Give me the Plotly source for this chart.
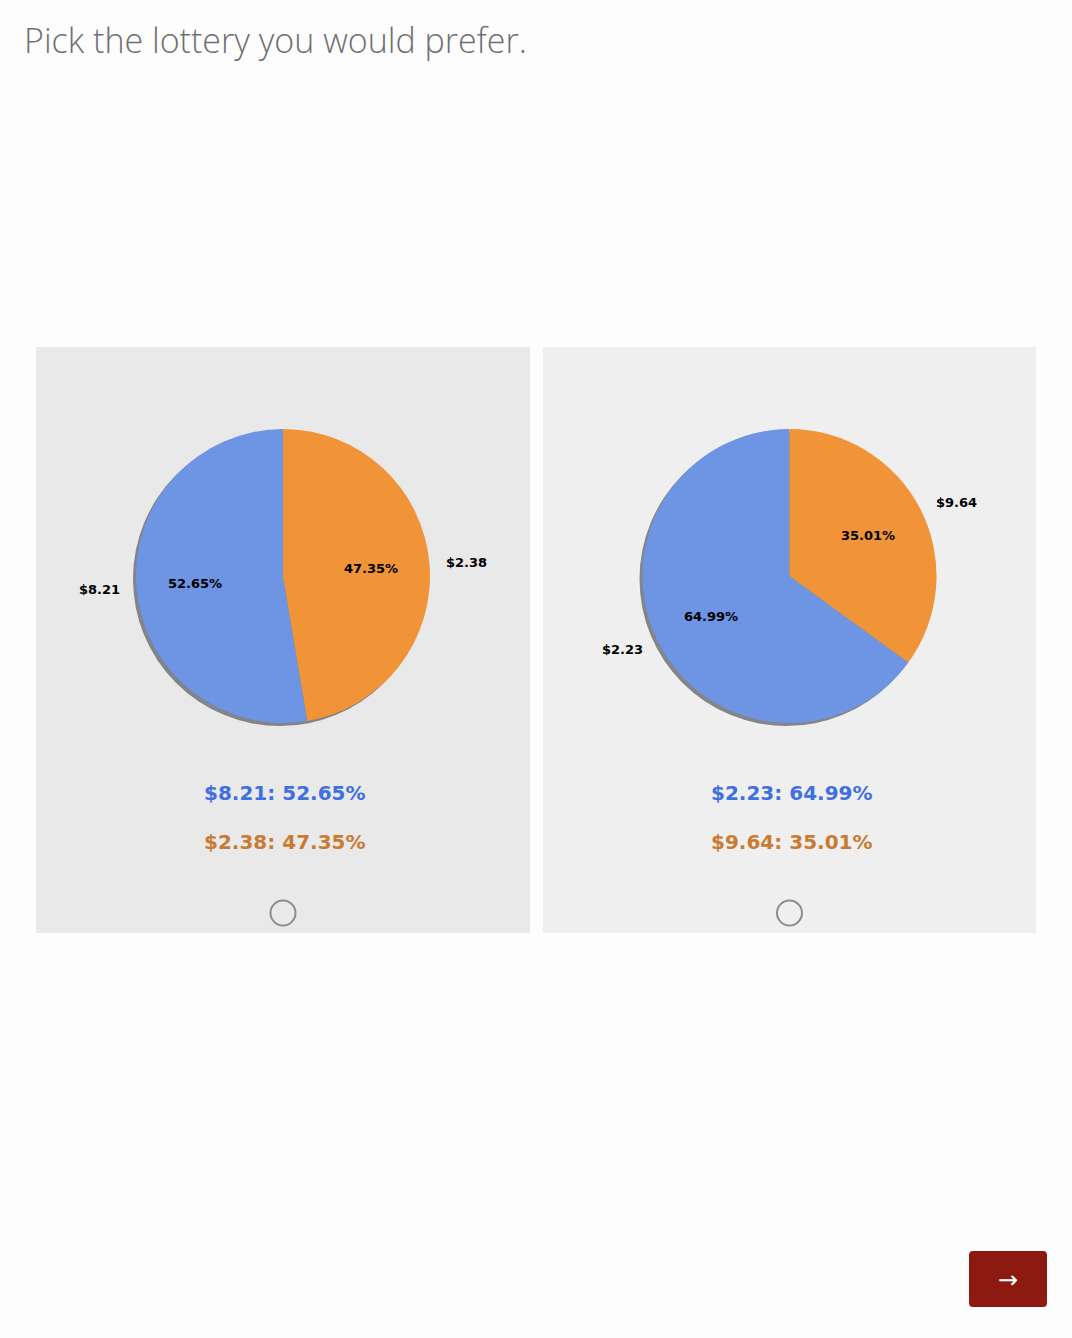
import math
import plotly.graph_objects as go

# lottery data
prizes_a = ["$8.21", "$2.38"]
probs_a = [52.65, 47.35]
prizes_b = ["$2.23", "$9.64"]
probs_b = [64.99, 35.01]

title = "Pick the lottery you would prefer."
slice_colors = ["#6e94e4", "#f19337"]
text_colors = ["#3f6fe0", "#c97b32"]

W, H = 1072, 1338


def px(x):
    return x / W


def py(y):
    return 1 - y / H


fig = go.Figure()
shapes = []
annotations = []

panels = [
    dict(x0=36, x1=530, color="#e9e9e9", prizes=prizes_a, probs=probs_a),
    dict(x0=543, x1=1036, color="#efefef", prizes=prizes_b, probs=probs_b),
]
top, bottom = 347, 933
cy, r = 576, 147

for p in panels:
    cx = (p["x0"] + p["x1"]) / 2
    total = sum(p["probs"])
    shapes.append(dict(type="rect", xref="paper", yref="paper", layer="below",
                       x0=px(p["x0"]), x1=px(p["x1"]), y0=py(bottom), y1=py(top),
                       fillcolor=p["color"], line=dict(width=0)))
    # shadow
    shapes.append(dict(type="circle", xref="paper", yref="paper", layer="below",
                       x0=px(cx - r - 3), x1=px(cx + r - 3), y0=py(cy + r + 3), y1=py(cy - r + 3),
                       fillcolor="rgba(95,97,105,0.75)", line=dict(width=0)))
    # first slice runs counterclockwise from 12 o'clock (like matplotlib startangle=90)
    fig.add_trace(go.Pie(
        labels=p["prizes"], values=p["probs"], sort=False, direction="clockwise",
        rotation=-360 * p["probs"][0] / total,
        marker=dict(colors=slice_colors, line=dict(width=0)),
        textinfo="none", hoverinfo="label+percent", showlegend=False,
        domain=dict(x=[px(cx - r), px(cx + r)], y=[py(cy + r), py(cy - r)]),
    ))
    start = 90.0
    for lab, v in zip(p["prizes"], p["probs"]):
        span = 360 * v / total
        mid = math.radians(start + span / 2)
        start += span
        c, s = math.cos(mid), math.sin(mid)
        annotations.append(dict(x=px(cx + 1.1 * r * c), y=py(cy - 1.1 * r * s),
                                text=lab, showarrow=False,
                                xanchor="left" if c > 0 else "right", yanchor="middle",
                                font=dict(family="DejaVu Sans", size=13, color="black", weight="bold")))
        annotations.append(dict(x=px(cx + 0.6 * r * c), y=py(cy - 0.6 * r * s),
                                text=f"{v:.2f}%", showarrow=False,
                                xanchor="center", yanchor="middle",
                                font=dict(family="DejaVu Sans", size=13, color="black", weight="bold")))
    for i, (lab, v) in enumerate(zip(p["prizes"], p["probs"])):
        annotations.append(dict(x=px(cx + 2), y=py(793 + 49 * i), text=f"{lab}: {v:.2f}%",
                                showarrow=False, xanchor="center", yanchor="middle",
                                font=dict(family="DejaVu Sans", size=20, color=text_colors[i], weight="bold")))
    # radio button
    shapes.append(dict(type="circle", xref="paper", yref="paper",
                       x0=px(cx - 12.5), x1=px(cx + 12.5), y0=py(913 + 12.5), y1=py(913 - 12.5),
                       line=dict(color="#8c8c8c", width=2)))

# next button
bx0, bx1, by0, by1, rr = 969, 1047, 1251, 1307, 4
path = (f"M {px(bx0 + rr)},{py(by0)} L {px(bx1 - rr)},{py(by0)} "
        f"Q {px(bx1)},{py(by0)} {px(bx1)},{py(by0 + rr)} L {px(bx1)},{py(by1 - rr)} "
        f"Q {px(bx1)},{py(by1)} {px(bx1 - rr)},{py(by1)} L {px(bx0 + rr)},{py(by1)} "
        f"Q {px(bx0)},{py(by1)} {px(bx0)},{py(by1 - rr)} L {px(bx0)},{py(by0 + rr)} "
        f"Q {px(bx0)},{py(by0)} {px(bx0 + rr)},{py(by0)} Z")
shapes.append(dict(type="path", xref="paper", yref="paper", path=path,
                   fillcolor="#8c1a11", line=dict(width=0)))
annotations.append(dict(x=px(1008), y=py(1280), text="→", showarrow=False,
                        xanchor="center", yanchor="middle",
                        font=dict(family="DejaVu Sans", size=24, color="white")))

annotations.append(dict(x=px(22), y=py(40), text=title, showarrow=False,
                        xanchor="left", yanchor="middle",
                        font=dict(family="Open Sans", size=34, color="#707070", weight=300)))

fig.update_layout(
    width=W, height=H, margin=dict(l=0, r=0, t=0, b=0),
    paper_bgcolor="#fdfdfd", plot_bgcolor="#fdfdfd",
    shapes=shapes, annotations=annotations,
)

fig.write_html("out.html", config=dict(displayModeBar=False),
               post_script="document.body.style.margin='0px';document.body.style.background='#fdfdfd';")
